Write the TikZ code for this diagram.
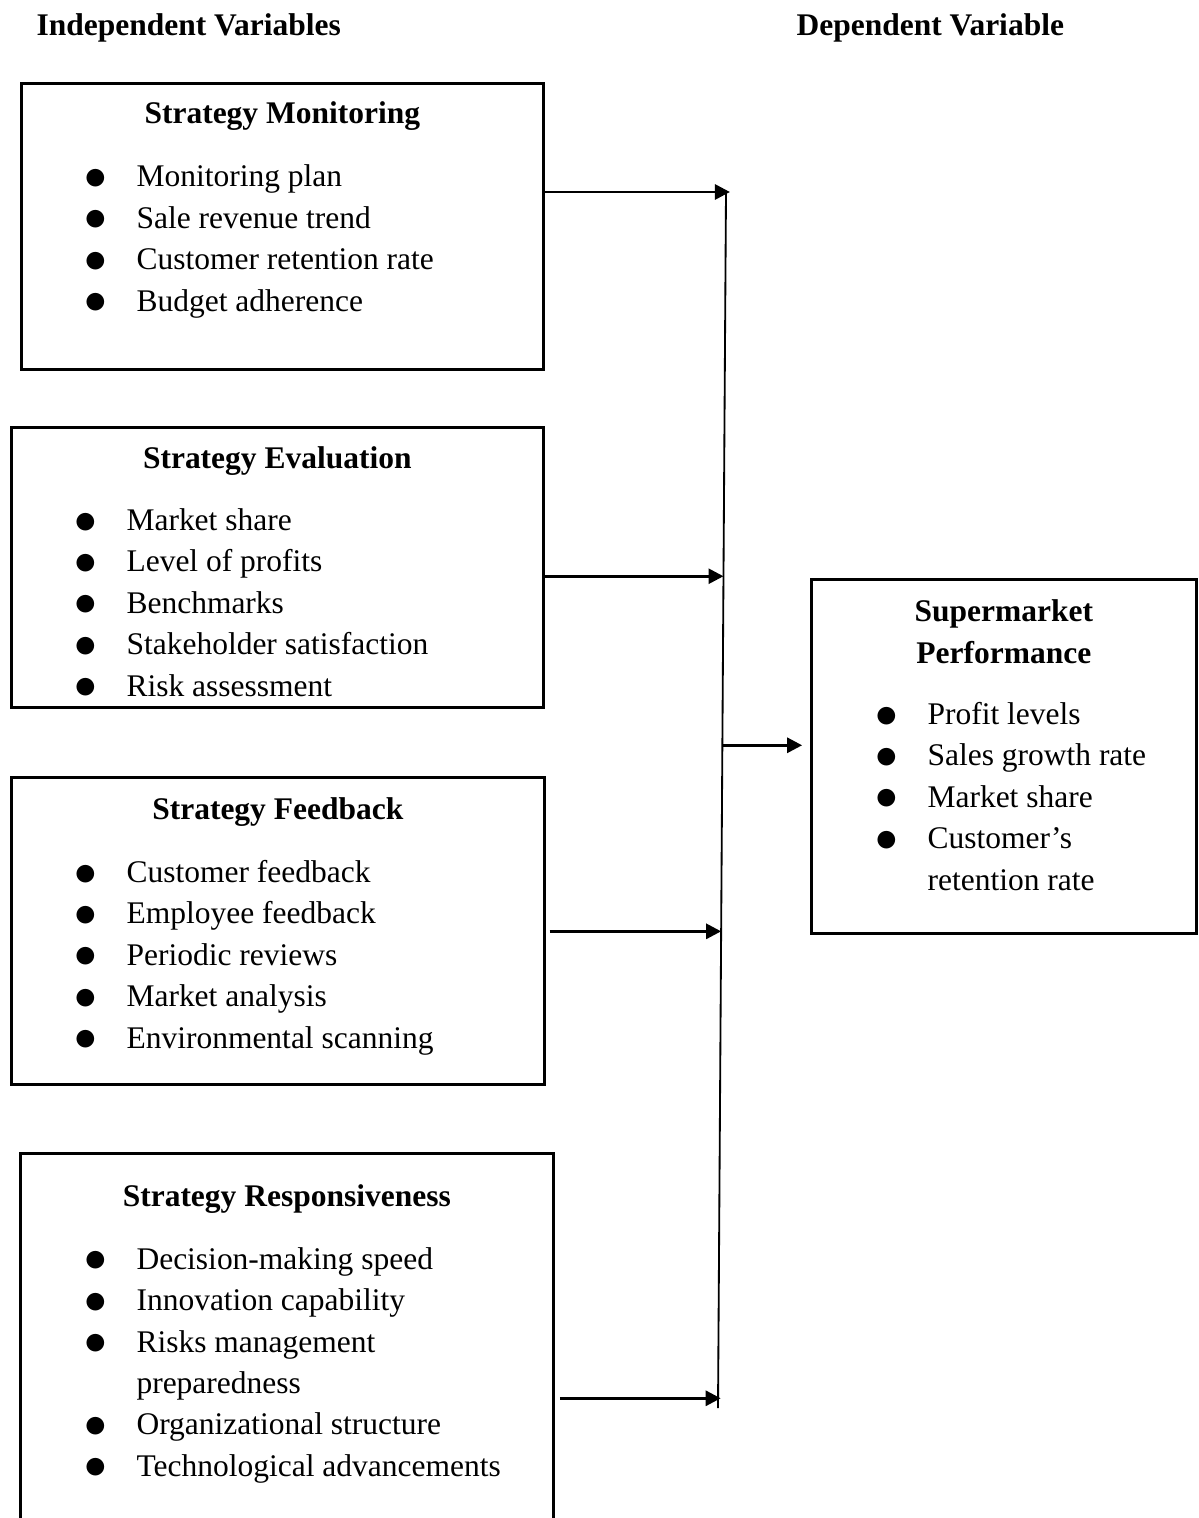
\documentclass[tikz,border=0pt]{standalone}
\usepackage{fontspec}
\setmainfont{Liberation Serif}
\usetikzlibrary{positioning,calc,arrows.meta}

\newcommand{\itm}{\llap{\raisebox{-0.9pt}{\fontsize{17.28}{17}\selectfont$\bullet$}\hspace{11.3pt}}}

\begin{document}
\begin{tikzpicture}[x=0.381pt,y=-0.381pt,
        every node/.style={font=\fontsize{12}{15.75}\selectfont, inner sep=0pt},
        box/.style={draw, line width=1pt, anchor=north west},
        boxsize/.style 2 args={minimum width=#1*0.381pt, minimum height=#2*0.381pt},
        heading/.style={font=\fontsize{12}{15.75}\selectfont\bfseries, align=center, anchor=base},
        itemlist/.style={align=left, anchor=base west},
        arr/.style={line width=1.1pt, -{Triangle[length=5.7pt,width=5.7pt]}}]
    \useasboundingbox (0,0) rectangle (1198,1518);

    % column titles
    \node[heading, anchor=base west] (iv) at (36,36) {Independent Variables};
    \node[heading, anchor=base west] (dv) at (796,36) {Dependent Variable};

    % independent variables (lists sit on the baseline of their last line)
    \node[box, boxsize={522}{286}] (mon) at (20,82) {};
    \node[heading] (mon-t) at ($(mon.north)+(0,42)$) {Strategy Monitoring};
    \node[itemlist] (mon-l) at ($(mon.north west)+(116,229)$) {\itm Monitoring plan\\ \itm Sale revenue trend\\
        \itm Customer retention rate\\ \itm Budget adherence};

    \node[box, boxsize={532}{280}] (eval) at (10,426) {};
    \node[heading] (eval-t) at ($(eval.north)+(0,42)$) {Strategy Evaluation};
    \node[itemlist] (eval-l) at ($(eval.north west)+(116,270)$) {\itm Market share\\ \itm Level of profits\\
        \itm Benchmarks\\ \itm Stakeholder satisfaction\\ \itm Risk assessment};

    \node[box, boxsize={533}{307}] (feed) at (10,776) {};
    \node[heading] (feed-t) at ($(feed.north)+(0,43)$) {Strategy Feedback};
    \node[itemlist] (feed-l) at ($(feed.north west)+(116,272)$) {\itm Customer feedback\\ \itm Employee feedback\\
        \itm Periodic reviews\\ \itm Market analysis\\ \itm Environmental scanning};

    \node[box, boxsize={533}{400}] (resp) at (19,1152) {};
    \node[heading] (resp-t) at ($(resp.north)+(0,54)$) {Strategy Responsiveness};
    \node[itemlist] (resp-l) at ($(resp.north west)+(117,324)$) {\itm Decision-making speed\\ \itm Innovation capability\\
        \itm Risks management\\ preparedness\\ \itm Organizational structure\\ \itm Technological advancements};

    % dependent variable
    \node[box, boxsize={385}{354}] (perf) at (810,578) {};
    \node[heading] (perf-t) at ($(perf.north)+(0,85)$) {Supermarket\\Performance};
    \node[itemlist] (perf-l) at ($(perf.north west)+(117,312)$) {\itm Profit levels\\ \itm Sales growth rate\\
        \itm Market share\\ \itm Customer’s\\ retention rate};

    % joining line
    \coordinate (vtop) at (726,192);
    \coordinate (vbot) at (718,1408);
    \draw[line width=0.7pt] (vtop) -- (vbot);
    \coordinate (j1) at ($(vtop)!0!(vbot)$);
    \coordinate (j2) at ($(vtop)!0.316!(vbot)$);
    \coordinate (j3) at ($(vtop)!0.608!(vbot)$);
    \coordinate (j4) at ($(vtop)!0.992!(vbot)$);
    \coordinate (j5) at ($(vtop)!0.455!(vbot)$);

    \draw[arr] (mon.east |- j1) -- ([xshift=1.5pt]j1);
    \draw[arr] (eval.east |- j2) -- (j2);
    \draw[arr, shorten <=1.5pt] (feed.east |- j3) -- (j3);
    \draw[arr, shorten <=2pt] (resp.east |- j4) -- ([xshift=1pt]j4);
    \draw[arr, shorten >=3pt] (j5) -- (perf.west |- j5);
\end{tikzpicture}
\end{document}
